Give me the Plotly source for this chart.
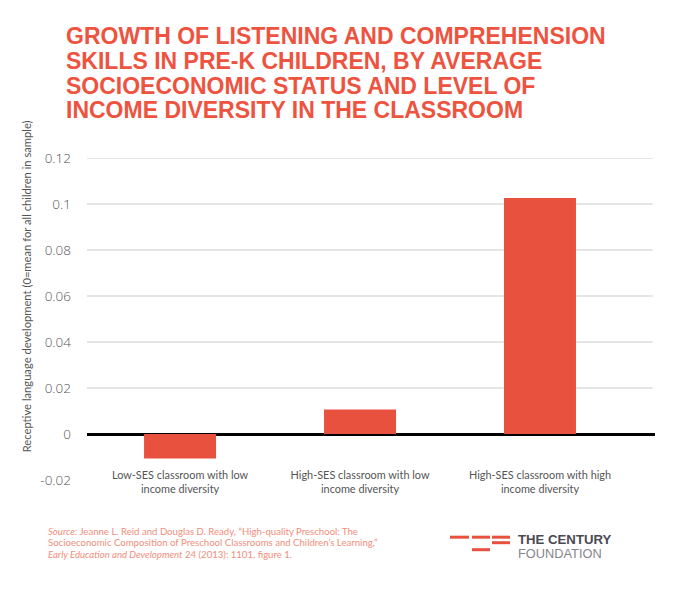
import plotly.graph_objects as go

# ---------------- data ----------------
categories = [
    "Low-SES classroom with low<br>income diversity",
    "High-SES classroom with low<br>income diversity",
    "High-SES classroom with high<br>income diversity",
]
values = [-0.0106, 0.0107, 0.1026]
y_tickvals = [-0.02, 0, 0.02, 0.04, 0.06, 0.08, 0.1, 0.12]
y_ticktext = ["-0.02", "0", "0.02", "0.04", "0.06", "0.08", "0.1", "0.12"]
title_lines = [
    "GROWTH OF LISTENING AND COMPREHENSION",
    "SKILLS IN PRE-K CHILDREN, BY AVERAGE",
    "SOCIOECONOMIC STATUS AND LEVEL OF",
    "INCOME DIVERSITY IN THE CLASSROOM",
]
y_title = "Receptive language development (0=mean for all children in sample)"
source_lines = [
    "<i>Source:</i> Jeanne L. Reid and Douglas D. Ready, \u201cHigh-quality Preschool: The",
    "Socioeconomic Composition of Preschool Classrooms and Children\u2019s Learning,\u201d",
    "<i>Early Education and Development</i> 24 (2013): 1101, figure 1.",
]
logo_lines = ["THE CENTURY", "FOUNDATION"]

# ---------------- layout helpers ----------------
W, H = 695, 590
L, R, T, B = 87, 655, 158.4, 479.9
RED = "#E9513F"
GREY = "#555555"
FONT = "Lato"
TITLE_FONT = "Liberation Sans"


def px_x(p):
    return (p - L) / (R - L)


def px_y(p):
    return (B - p) / (B - T)


fig = go.Figure()
fig.add_trace(go.Bar(
    x=categories, y=values, width=0.4,
    marker=dict(color=RED, line=dict(width=0)),
    hoverinfo="x+y",
))

shapes = []
# gridlines (none at the bottom -0.02 tick)
for v in y_tickvals:
    if v > 0:
        shapes.append(dict(type="line", xref="paper", yref="y", x0=0, x1=0.996,
                           y0=v, y1=v, line=dict(color="#CCCCCC", width=1.2),
                           layer="below"))
# logo dashes
for (x0, y0, x1, y1) in [(450, 535.5, 469, 538.5), (472, 535.5, 490, 538.5),
                         (492, 535.5, 510, 538.5), (492, 541, 510, 544),
                         (472, 548, 490, 551)]:
    shapes.append(dict(type="rect", xref="paper", yref="paper",
                       x0=px_x(x0), x1=px_x(x1), y0=px_y(y1), y1=px_y(y0),
                       fillcolor=RED, line=dict(width=0)))

annotations = []
for i, line in enumerate(title_lines):
    annotations.append(dict(
        text=line, xref="paper", yref="paper", x=px_x(64), y=px_y(36.5 + i * 24.8),
        xanchor="left", yanchor="middle", showarrow=False,
        font=dict(family=TITLE_FONT, size=23, color="#EE5340", weight=700)))
for i, line in enumerate(source_lines):
    annotations.append(dict(
        text=line, xref="paper", yref="paper", x=px_x(46), y=px_y(531 + i * 11.6),
        xanchor="left", yanchor="middle", showarrow=False,
        font=dict(family=FONT, size=9.6, color="#F08E7C")))
annotations.append(dict(
    text=y_title, xref="paper", yref="paper", x=px_x(26.5), y=px_y(287),
    xanchor="center", yanchor="middle", textangle=-90, showarrow=False,
    font=dict(family=FONT, size=11.2, color=GREY)))
annotations.append(dict(
    text=logo_lines[0], xref="paper", yref="paper", x=px_x(516), y=px_y(539),
    xanchor="left", yanchor="middle", showarrow=False,
    font=dict(family=TITLE_FONT, size=13.2, color="#4A4A52", weight=700)))
annotations.append(dict(
    text=logo_lines[1], xref="paper", yref="paper", x=px_x(516), y=px_y(553.7),
    xanchor="left", yanchor="middle", showarrow=False,
    font=dict(family=TITLE_FONT, size=12.8, color="#86868B")))

fig.update_layout(
    width=W, height=H,
    margin=dict(l=L, r=W - R, t=T, b=H - B, pad=0),
    paper_bgcolor="white", plot_bgcolor="white",
    showlegend=False,
    font=dict(family=FONT, color=GREY),
    xaxis=dict(type="category", range=[-0.517, 2.639], showgrid=False,
               showline=False, zeroline=False, ticks="",
               anchor="free", position=px_y(467),
               tickfont=dict(family=FONT, size=10.9, color=GREY)),
    yaxis=dict(range=[-0.02, 0.12], tickvals=y_tickvals, ticktext=y_ticktext,
               showgrid=False, showline=False, ticks="",
               zeroline=True, zerolinecolor="#000000", zerolinewidth=3,
               ticklabelstandoff=15,
               tickfont=dict(family="Open Sans", size=13.5, color=GREY, weight=300)),
    shapes=shapes, annotations=annotations,
)

fig.write_html("out.html", config={"displayModeBar": False},
               post_script="document.body.style.margin='0';")
